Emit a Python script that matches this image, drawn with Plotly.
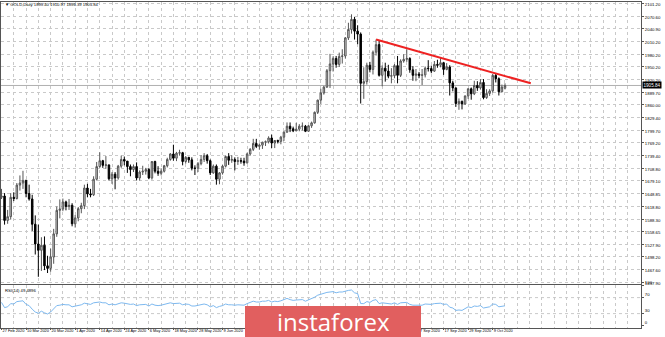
import plotly.graph_objects as go

opens = [1640,1643,1585,1594,1640,1637,1669,1674,1680,1649,
1636,1576,1529,1514,1526,1477,1471,1498,1553,1609,
1612,1629,1618,1621,1577,1591,1613,1620,1662,1648,
1646,1683,1713,1727,1716,1717,1684,1695,1686,1714,
1730,1726,1713,1706,1713,1686,1700,1702,1706,1686,
1725,1702,1697,1702,1715,1730,1743,1733,1745,1746,
1725,1735,1729,1709,1709,1720,1730,1739,1727,1698,
1714,1683,1698,1714,1737,1728,1730,1725,1727,1726,
1722,1743,1754,1768,1761,1764,1771,1772,1781,1769,
1775,1773,1783,1795,1809,1803,1798,1802,1809,1809,
1797,1810,1817,1842,1871,1888,1902,1941,1957,1970,
1956,1975,1976,2019,2039,2063,2035,2028,1911,1915,
1954,1944,1985,2003,1930,1947,1940,1928,1929,1953,
1930,1964,1968,1970,1943,1930,1933,1930,1931,1947,
1946,1940,1956,1954,1960,1944,1950,1912,1900,1863,
1868,1862,1881,1898,1886,1906,1900,1913,1877,1887,
1893,1930,1922,1891,1899.40]

highs = [1660,1650,1610,1650,1652,1674,1692,1703,1682,1670,
1646,1597,1575,1545,1547,1501,1518,1565,1618,1635,
1637,1632,1636,1626,1598,1617,1627,1670,1672,1660,
1690,1724,1747,1729,1738,1718,1700,1700,1717,1739,
1737,1726,1718,1718,1723,1704,1715,1710,1710,1726,
1727,1714,1709,1717,1734,1745,1765,1748,1753,1748,
1738,1736,1735,1716,1724,1740,1745,1743,1730,1718,
1718,1700,1717,1739,1745,1740,1735,1736,1734,1734,
1746,1757,1779,1779,1768,1772,1775,1785,1789,1776,
1777,1786,1797,1818,1818,1808,1817,1814,1818,1812,
1812,1820,1844,1872,1898,1905,1945,1981,1975,1976,
1984,1992,2021,2055,2075,2069,2049,2032,1949,1960,
1962,1989,2015,2013,1954,1960,1955,1947,1957,1976,
1968,1980,1992,1973,1952,1945,1938,1945,1951,1966,
1953,1964,1967,1973,1962,1959,1954,1917,1901,1875,
1870,1882,1899,1901,1917,1916,1921,1921,1897,1897,
1933,1933,1925,1908,1910.97]

lows = [1636,1575,1577,1587,1631,1635,1656,1660,1640,1632,
1560,1504,1451,1465,1467,1460,1463,1482,1546,1590,
1607,1609,1610,1571,1568,1583,1602,1612,1640,1640,
1643,1680,1710,1710,1708,1680,1672,1659,1682,1710,
1716,1698,1690,1700,1680,1680,1693,1694,1683,1682,
1697,1691,1692,1699,1711,1727,1727,1726,1739,1716,
1720,1722,1704,1693,1700,1716,1724,1720,1693,1696,
1670,1671,1694,1711,1717,1722,1704,1717,1720,1715,
1720,1739,1750,1757,1753,1755,1762,1768,1757,1757,
1768,1766,1774,1793,1795,1795,1797,1797,1799,1795,
1796,1805,1815,1838,1862,1884,1900,1900,1939,1948,
1950,1958,1970,2014,2029,2015,2004,1863,1874,1908,
1937,1932,1977,1927,1904,1915,1923,1911,1923,1911,
1926,1960,1962,1936,1917,1916,1923,1907,1925,1939,
1935,1938,1948,1949,1931,1942,1882,1892,1855,1848,
1849,1860,1874,1872,1883,1893,1896,1873,1874,1881,
1889,1913,1882,1890,1896.39]

closes = [1643,1585,1594,1640,1637,1669,1674,1680,1649,1636,
1576,1529,1514,1526,1477,1471,1498,1553,1609,1612,
1629,1618,1621,1577,1591,1613,1620,1662,1648,1646,
1683,1713,1727,1716,1717,1684,1695,1686,1714,1730,
1726,1713,1706,1713,1686,1700,1702,1706,1686,1725,
1702,1697,1702,1715,1730,1743,1733,1745,1746,1725,
1735,1729,1709,1709,1720,1730,1739,1727,1698,1714,
1683,1698,1714,1737,1728,1730,1725,1727,1726,1722,
1743,1754,1768,1761,1764,1771,1772,1781,1769,1775,
1773,1783,1795,1809,1803,1798,1802,1809,1809,1797,
1810,1817,1842,1871,1888,1902,1941,1957,1970,1956,
1975,1976,2019,2039,2063,2035,2028,1911,1915,1954,
1944,1985,2003,1930,1947,1940,1928,1929,1953,1930,
1964,1968,1970,1943,1930,1933,1930,1931,1947,1946,
1940,1956,1954,1960,1944,1950,1912,1900,1863,1868,
1862,1881,1898,1886,1906,1900,1913,1877,1887,1893,
1930,1922,1891,1902,1905.84]

rsi = [58,45,47,55,54,60,61,62,53,50,
41,34,31,36,32,29,34,43,50,51,
53,52,52,47,49,51,52,56,54,53,
57,58,59,57,57,52,54,52,55,57,
56,54,53,54,50,52,52,53,49,54,
51,50,51,53,55,57,55,56,56,52,
54,53,49,49,51,52,54,52,47,50,
45,48,50,54,52,52,51,52,51,51,
55,58,61,59,59,61,61,63,59,61,
60,62,65,68,65,63,64,65,65,61,
64,66,71,76,79,80,83,84,85,82,
84,84,87,88,89,82,80,55,55,60,
58,63,65,55,57,56,54,54,57,53,
57,58,58,53,51,51,51,51,54,54,
53,55,55,56,53,54,46,44,38,39,
38,43,47,45,49,48,50,44,46,47,
54,53,47,49,49.49]

# date labels that are visible in the picture (the ones between are hidden by the watermark)
date_tick_pos = [0, 8, 16, 24, 32, 40, 48, 56, 64, 72, 136, 144, 152, 160]
date_tick_text = ["27 Feb 2020", "10 Mar 2020", "20 Mar 2020", "1 Apr 2020", "14 Apr 2020",
                  "24 Apr 2020", "6 May 2020", "18 May 2020", "28 May 2020", "9 Jun 2020",
                  "7 Sep 2020", "17 Sep 2020", "29 Sep 2020", "9 Oct 2020"]

price_tick_text = ["1437.90", "1467.60", "1498.20", "1527.90", "1558.65", "1588.30", "1618.80",
                   "1648.85", "1679.10", "1708.80", "1739.40", "1769.20", "1799.70", "1829.40",
                   "1860.00", "1889.70", "1920.20", "1950.20", "1980.20", "2010.20", "2040.90",
                   "2070.60", "2101.20"]
price_tick_vals = [float(t) for t in price_tick_text]

rsi_tick_vals = [0, 30, 70, 100]
rsi_tick_text = ["0", "30", "70", "100"]

trend_x = [122, 172.4]
trend_y = [2015, 1911]

last_price = 1905.84
header_text = "▼ GOLD,Daily 1899.40 1910.97 1896.39 1905.84"
rsi_text = "RSI(14) 49.4896"

x = list(range(len(closes)))

fig = go.Figure()
fig.add_trace(go.Candlestick(
    x=x, open=opens, high=highs, low=lows, close=closes,
    increasing=dict(line=dict(color="#555555", width=1), fillcolor="#d8d8d8"),
    decreasing=dict(line=dict(color="#000000", width=1), fillcolor="#000000"),
    whiskerwidth=0, hoverinfo="skip", showlegend=False,
    xaxis="x", yaxis="y"))
fig.add_trace(go.Scatter(
    x=trend_x, y=trend_y, mode="lines", line=dict(color="#ee2222", width=2),
    hoverinfo="skip", showlegend=False, xaxis="x", yaxis="y"))
fig.add_trace(go.Scatter(
    x=x, y=rsi, mode="lines", line=dict(color="#7db9f0", width=1),
    hoverinfo="skip", showlegend=False, xaxis="x2", yaxis="y2"))

grid_col = "#c9c9c9"
frame_col = "#555555"
xr = [-0.16, 208.3]
font_fam = "Liberation Sans, Arial, sans-serif"

fig.update_layout(
    template="none",
    width=665, height=337,
    margin=dict(l=1, r=24, t=2, b=9, autoexpand=False),
    paper_bgcolor="white", plot_bgcolor="white",
    font=dict(family=font_fam, size=5, color="#000000"),
    showlegend=False,
    xaxis=dict(domain=[0, 1], anchor="y", range=xr, showticklabels=False,
               tickvals=date_tick_pos, ticks="", showgrid=False,
               minor=dict(dtick=4, tick0=0, showgrid=True, gridcolor=grid_col,
                          griddash="dot", gridwidth=1, ticks=""),
               showline=True, linecolor=frame_col, linewidth=1, mirror=True,
               zeroline=False, rangeslider=dict(visible=False), automargin=False,
               fixedrange=True),
    yaxis=dict(domain=[0.135, 1], anchor="x", range=[1433.9, 2104.3], side="right",
               tickvals=price_tick_vals, ticktext=price_tick_text, ticklabelshift=1,
               ticks="outside", ticklen=2, tickcolor=frame_col, tickfont=dict(size=4.3),
               showgrid=True, gridcolor=grid_col, griddash="dot", gridwidth=1,
               showline=True, linecolor=frame_col, linewidth=1, mirror=True,
               zeroline=False, automargin=False, fixedrange=True),
    xaxis2=dict(domain=[0, 1], anchor="y2", range=xr, matches="x",
                tickvals=date_tick_pos, ticktext=date_tick_text, tickangle=0,
                ticklabelposition="outside right", ticklabelstandoff=-2,
                ticks="outside", ticklen=1, tickcolor=frame_col,
                tickfont=dict(size=3.9), showgrid=False,
                minor=dict(dtick=4, tick0=0, showgrid=True, gridcolor=grid_col,
                           griddash="dot", gridwidth=1, ticks=""),
                showline=True, linecolor=frame_col, linewidth=1, mirror=True,
                zeroline=False, automargin=False, fixedrange=True),
    yaxis2=dict(domain=[0, 0.1319], anchor="x2", range=[-6, 101.5], side="right",
                tickvals=rsi_tick_vals, ticktext=rsi_tick_text, ticklabelshift=-3,
                ticks="outside", ticklen=2, tickcolor=frame_col, tickfont=dict(size=4.3),
                showgrid=False,
                showline=True, linecolor=frame_col, linewidth=1, mirror=True,
                zeroline=False, automargin=False, fixedrange=True),
)

shapes = []
for lvl in [30, 70]:
    shapes.append(dict(type="line", xref="x2 domain", yref="y2", x0=0, x1=1, y0=lvl, y1=lvl,
                       line=dict(color=grid_col, width=1, dash="dot"), layer="below"))
shapes.append(dict(type="line", xref="x domain", yref="y", x0=0, x1=1,
                   y0=last_price, y1=last_price,
                   line=dict(color="#b0b0b0", width=1), layer="below"))
shapes.append(dict(type="rect", xref="paper", yref="paper",
                   x0=(245 - 1) / 640, x1=(421 - 1) / 640,
                   y0=-0.03, y1=(328 - 306) / 326,
                   fillcolor="#e15f5f", line=dict(width=0), layer="above"))
fig.update_layout(shapes=shapes)

fig.add_annotation(xref="paper", yref="y", x=1, y=last_price, xanchor="left",
                   xshift=1, text=f"{last_price:.2f}", showarrow=False,
                   bgcolor="#000000", font=dict(color="white", size=4.6), borderpad=0.5)
fig.add_annotation(xref="paper", yref="paper", x=(3 - 1) / 640, y=(328 - 5) / 326,
                   xanchor="left", yanchor="middle", text=header_text, showarrow=False,
                   font=dict(size=4.2, color="#000000"))
fig.add_annotation(xref="paper", yref="paper", x=(3 - 1) / 640, y=(328 - 290) / 326,
                   xanchor="left", yanchor="middle", text=rsi_text, showarrow=False,
                   font=dict(size=4.2, color="#000000"))
fig.add_annotation(xref="paper", yref="paper", x=(333 - 1) / 640, y=(328 - 321) / 326,
                   xanchor="center", yanchor="middle", text="instaforex", showarrow=False,
                   font=dict(size=24, color="white", family="Open Sans"))

fig.write_html("out.html", config={"displayModeBar": False})
